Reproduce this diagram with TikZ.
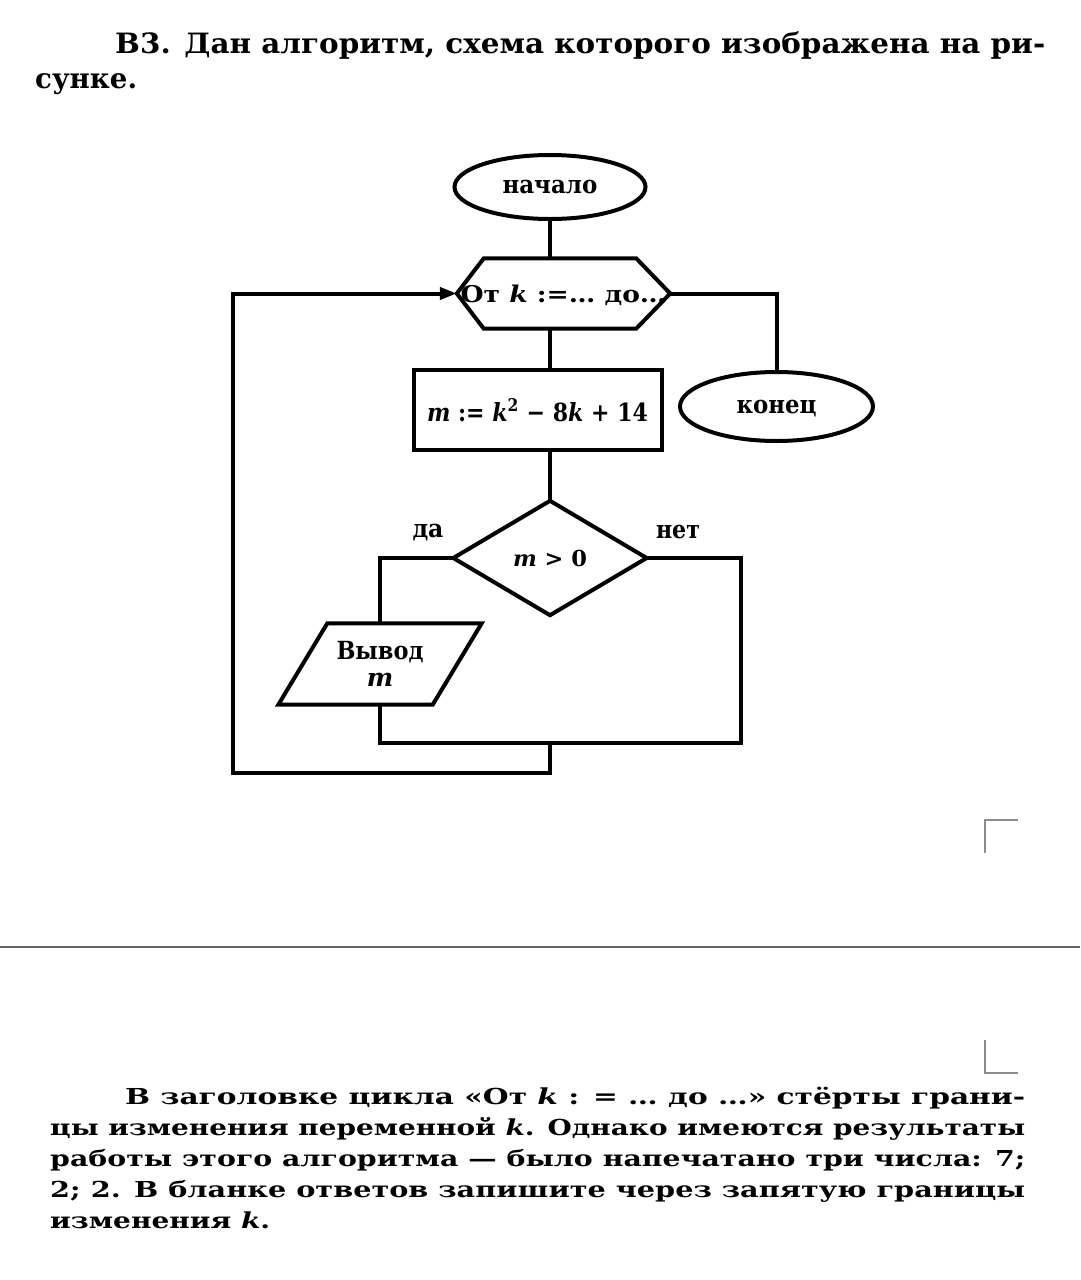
\documentclass[tikz,border=0pt]{standalone}
\usepackage{fontspec}
\usepackage{graphicx}
\setmainfont{DejaVu Serif}
\usetikzlibrary{arrows.meta,shapes.geometric,calc}
\newcommand{\fitline}[2]{\resizebox{#1}{\height}{#2}}
\begin{document}
\begin{tikzpicture}[x=1pt,y=-1pt,
  titlefont/.style={font=\fontsize{28}{34}\selectfont\bfseries},
  parafont/.style={font=\fontsize{22}{26}\selectfont\bfseries},
  flowfont/.style={font=\fontsize{25}{22}\selectfont\bfseries},
  line/.style={line width=4pt, line join=miter},
  ttxt/.style={anchor=base west, inner sep=0pt, titlefont},
  ptxt/.style={anchor=base west, inner sep=0pt, parafont},
  lbl/.style={inner sep=0pt, flowfont},
  term/.style={ellipse, draw, line width=4pt, inner sep=0pt, text height=13pt, text depth=0pt, flowfont},
  ghost/.style={rectangle, draw=none, inner sep=0pt, flowfont},
  regmark/.style={draw=black!45, line width=1.2pt}]
\useasboundingbox (0,0) rectangle (1080,1280);
\fill[white] (0,0) rectangle (1080,1280);

% title
\node[ttxt] (t1) at (115,53.5) {\fitline{930pt}{В3. Дан алгоритм, схема которого изображена на ри-}};
\node[ttxt] (t2) at (35,88) {\fitline{102pt}{сунке.}};

% flowchart nodes
\node[term, minimum width=191pt, minimum height=64pt] (start) at (550,187) {\fitline{95pt}{начало}};
\node[ghost, minimum width=213pt, minimum height=70pt, text depth=0pt] (hex) at (563.5,293.5) {\fitline{206pt}{\fontsize{23}{27}\selectfont От \textit{k} :=… до…}};
\draw[line] (hex.west) -- ([xshift=27pt]hex.north west) -- ([xshift=-34pt]hex.north east) -- (hex.east) -- ([xshift=-34pt]hex.south east) -- ([xshift=27pt]hex.south west) -- cycle;
\node[draw, line width=4pt, rectangle, minimum width=248pt, minimum height=80pt, inner sep=0pt, text depth=0pt, flowfont] (calc) at (537.5,410) {\fitline{221pt}{\textit{m} := \textit{k}\textsuperscript{2} − 8\textit{k} + 14}};
\node[ghost, minimum width=193pt, minimum height=114pt, text depth=0pt] (dia) at (550,558) {\fitline{74pt}{\fontsize{22}{26}\selectfont\textit{m} > 0}};
\draw[line] (dia.north) -- (dia.east) -- (dia.south) -- (dia.west) -- cycle;
\node[ghost, minimum width=203pt, minimum height=81pt, align=center, font=\fontsize{25}{27}\selectfont\bfseries] (out) at (380,664) {\fitline{87pt}{Вывод}\\\textit{m}};
\draw[line] ([xshift=49pt]out.north west) -- (out.north east) -- ([xshift=-49pt]out.south east) -- (out.south west) -- cycle;
\node[term, minimum width=193pt, minimum height=69pt] (end) at (776.5,406.5) {\fitline{80pt}{конец}};
\node[lbl] (yes) at (428,533) {\fitline{31pt}{да}};
\node[lbl] (no) at (678,532) {\fitline{44pt}{нет}};

\coordinate (nr) at (741,743);
\coordinate (m1) at (550,743);
\coordinate (m2) at (550,773);
\coordinate (lc) at (233,773);

% connectors
\draw[line] (start.south) -- (start.south |- hex.north);
\draw[line] (start.south |- hex.south) -- (start.south |- calc.north);
\draw[line] (start.south |- calc.south) -- (dia.north);
\draw[line] (dia.west) -| (out.north);
\draw[line] (dia.east) -| (nr) -- (out.south |- nr) -- (out.south);
\draw[line, -{Triangle[length=17pt,width=12pt]}] (m1) -- (m2) -- (lc) |- (hex.west);
\draw[line] (hex.east) -| (end.north);

% page marks
\draw[regmark] (1018,820) -- (985,820) -- (985,853);
\draw[regmark] (985,1040) -- (985,1073) -- (1018,1073);
\draw[draw=black!60, line width=1.5pt] (0,947) -- (1080,947);

% paragraph
\node[ptxt] (p1) at (125,1104) {\fitline{900pt}{В заголовке цикла «От \textit{k} : = … до …» стёрты грани-}};
\node[ptxt] (p2) at (50,1135) {\fitline{975pt}{цы изменения переменной \textit{k}. Однако имеются результаты}};
\node[ptxt] (p3) at (50,1166) {\fitline{975pt}{работы этого алгоритма — было напечатано три числа: 7;}};
\node[ptxt] (p4) at (50,1197) {\fitline{975pt}{2; 2. В бланке ответов запишите через запятую границы}};
\node[ptxt] (p5) at (50,1228) {\fitline{220pt}{изменения \textit{k}.}};
\end{tikzpicture}
\end{document}
